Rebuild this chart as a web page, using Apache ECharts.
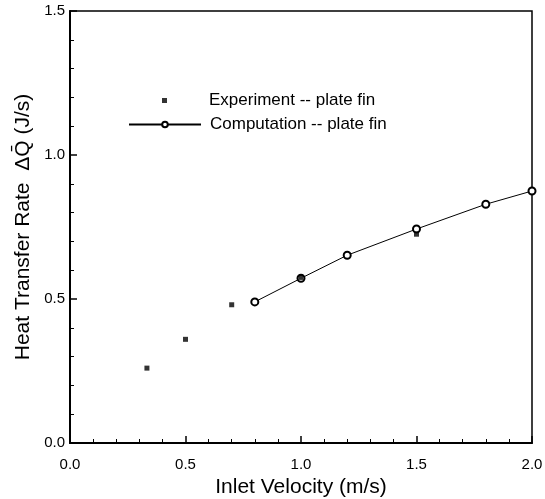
<!DOCTYPE html>
<html>
<head>
<meta charset="utf-8">
<script src="https://cdn.jsdelivr.net/npm/echarts@6/dist/echarts.min.js"></script>
<style>
    html, body { margin: 0; padding: 0; background: #fff; }
    #chart { width: 545px; height: 499px; }
</style>
</head>
<body>
<div id="chart"></div>
<script>
    // experiment -- plate fin
    var expX = [0.333, 0.5, 0.7, 1.0, 1.5];
    var expY = [0.26, 0.36, 0.48, 0.575, 0.725];
    // computation -- plate fin
    var compX = [0.8, 1.0, 1.2, 1.5, 1.8, 2.0];
    var compY = [0.49, 0.572, 0.652, 0.743, 0.829, 0.875];

    function pairs(xs, ys) {
        return xs.map(function (x, i) { return [x, ys[i]]; });
    }

    var font = 'Liberation Sans, Arial, sans-serif';

    var myChart = echarts.init(document.getElementById('chart'));
    var option = {
        animation: false,
        textStyle: { fontFamily: font, color: '#000' },
        grid: {
            left: 70, right: 13, top: 11, bottom: 56,
            outerBoundsMode: 'none',
            containLabel: false,
            show: true,
            borderColor: '#000',
            borderWidth: 1.5
        },
        legend: [
            {
                data: [{ name: 'Experiment -- plate fin', icon: 'rect' }],
                left: 157, top: 87,
                itemWidth: 5, itemHeight: 5,
                textStyle: { fontFamily: font, fontSize: 17, color: '#000', padding: [0, 0, 0, 37] }
            },
            {
                data: ['Computation -- plate fin'],
                left: 123, top: 111,
                itemWidth: 72, itemHeight: 7,
                textStyle: { fontFamily: font, fontSize: 17, color: '#000', padding: [0, 0, 0, 4] }
            }
        ],
        xAxis: {
            type: 'value',
            min: 0, max: 2, interval: 0.5,
            name: 'Inlet Velocity (m/s)',
            nameLocation: 'middle',
            nameGap: 28,
            nameTextStyle: { fontFamily: font, fontSize: 21, color: '#000' },
            axisLine: { show: true, lineStyle: { color: '#000', width: 2 } },
            axisTick: { show: true, inside: true, length: 7, lineStyle: { color: '#000', width: 1.5 } },
            minorTick: { show: true, splitNumber: 5, length: 4, lineStyle: { color: '#000', width: 1 } },
            splitLine: { show: false },
            axisLabel: {
                fontFamily: font, fontSize: 15, color: '#000', margin: 14,
                formatter: function (v) { return v.toFixed(1); }
            }
        },
        yAxis: {
            type: 'value',
            min: 0, max: 1.5, interval: 0.5,
            name: 'Heat Transfer Rate  \u0394Q\u0304 (J/s)',
            nameLocation: 'middle',
            nameGap: 34,
            nameTextStyle: { fontFamily: font, fontSize: 21, color: '#000' },
            axisLine: { show: true, lineStyle: { color: '#000', width: 2 } },
            axisTick: { show: true, inside: true, length: 7, lineStyle: { color: '#000', width: 1.5 } },
            minorTick: { show: true, splitNumber: 5, length: 4, lineStyle: { color: '#000', width: 1 } },
            splitLine: { show: false },
            axisLabel: {
                fontFamily: font, fontSize: 15, color: '#000', margin: 5,
                formatter: function (v) { return v.toFixed(1); }
            }
        },
        series: [
            {
                name: 'Experiment -- plate fin',
                type: 'scatter',
                symbol: 'rect',
                symbolSize: 5,
                itemStyle: { color: '#000' },
                data: pairs(expX, expY),
                z: 3
            },
            {
                name: 'Computation -- plate fin',
                type: 'line',
                symbol: 'emptyCircle',
                symbolSize: 7,
                showAllSymbol: true,
                clip: false,
                lineStyle: { color: '#000', width: 1 },
                itemStyle: { color: '#000', borderColor: '#000', borderWidth: 1 },
                data: pairs(compX, compY),
                z: 2
            }
        ]
    };
    myChart.setOption(option);
</script>
</body>
</html>
